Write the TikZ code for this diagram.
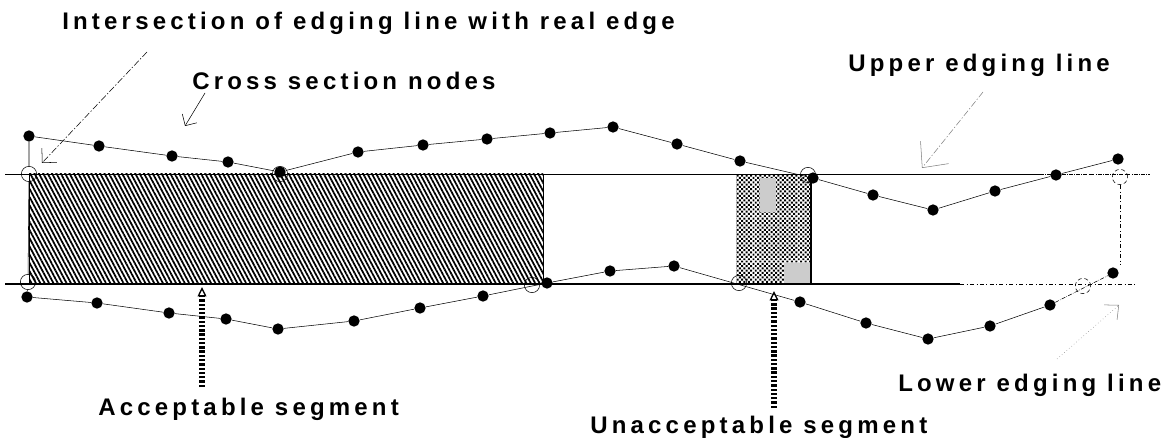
\documentclass[tikz,border=0pt]{standalone}
\usepackage{fontspec}
\newfontfamily\lblfont{Liberation Sans Bold}[LetterSpace=17.5]
\usetikzlibrary{arrows.meta,patterns,patterns.meta}

\begin{document}
\begin{tikzpicture}[x=0.75pt, y=-0.75pt,
    lbl/.style={font=\lblfont\fontsize{18}{21}\selectfont, anchor=base west, inner sep=0pt},
    dot/.style={circle, fill, inner sep=0pt, minimum size=8.5pt},
    hit/.style={circle, draw, thin, inner sep=0pt, minimum size=11.5pt},
    leader/.style={thin, dash pattern=on 5pt off 1.5pt on 1pt off 1.5pt},
    marker/.style={line width=4pt, dash pattern=on 1.8pt off 1.4pt,
        -{Triangle[open, length=7pt, width=6.5pt, line width=1pt]}}]
    \useasboundingbox (0,0) rectangle (1169,438);

    % segments between the edging lines
    \fill[pattern={Lines[angle=-62, distance=2.9pt, line width=1.3pt]}]
        (29,174) rectangle (543,284);
    \draw (29,174) -- (29,284) (543,174) -- (543,284);
    \fill[pattern={Dots[angle=45, distance=2.4pt, radius=1.05pt]}]
        (736,176) rectangle (811,284);
    \fill[gray!40] (760,178) rectangle (776,212);
    \fill[gray!40] (784,263) rectangle (810,283);
    \draw[line width=1.2pt] (811,176) -- (811,284);

    % edging lines
    \coordinate (ue-l) at (5,174);
    \coordinate (ue-m) at (1040,174);
    \coordinate (ue-r) at (1150,174);
    \coordinate (le-l) at (5,284);
    \coordinate (le-m) at (960,284);
    \coordinate (le-r) at (1135,284);
    \draw (ue-l) -- (ue-m);
    \draw[densely dash dot] (ue-m) -- (ue-r);
    \draw[line width=0.8pt] (le-l) -- (le-m);
    \draw[dash dot] (le-m) -- (le-r);

    % cross section nodes
    \foreach \i/\x/\y in {1/29/136, 2/99/146, 3/172/156, 4/228/162, 5/280/172,
        6/358/152, 7/423/145, 8/487/139, 9/550/133, 10/613/127, 11/677/144,
        12/740/161, 13/813/178, 14/873/195, 15/933/210, 16/995/191,
        17/1056/175, 18/1118/159}
        \node[dot] (u\i) at (\x,\y) {};
    \foreach \i/\x/\y in {1/27/297, 2/97/303, 3/169/313, 4/226/319, 5/278/329,
        6/354/321, 7/420/308, 8/483/296, 9/547/283, 10/610/271, 11/674/266,
        12/800/302, 13/866/323, 14/928/339, 15/990/326, 16/1050/305,
        17/1113/273}
        \node[dot] (l\i) at (\x,\y) {};
    \foreach \i [remember=\i as \j (initially 1)] in {2,...,18}
        \draw (u\j) -- (u\i);
    \foreach \i [remember=\i as \j (initially 1)] in {2,...,16}
        \draw (l\j) -- (l\i);
    \draw[densely dash dot] (l16) -- (l17);

    % intersections with the real edge
    \node[hit] (hu1) at (29,174) {};
    \node[hit] (hu2) at (280,174) {};
    \node[hit] (hu3) at (808,175) {};
    \node[hit, densely dashed] (hu4) at (1120,177) {};
    \node[hit] (hl1) at (28,282) {};
    \node[hit] (hl2) at (532,285) {};
    \node[hit] (hl3) at (739,283) {};
    \node[hit, densely dashed] (hl4) at (1083,286) {};
    \draw (u1) -- (hu1) -- (hl1) -- (l1);
    \draw[dash dot] (hu4) -- (1120,265);

    % labels
    \node[lbl] (isect) at (62,30) {Intersection of edging line with real edge};
    \node[lbl] (csn) at (192,90) {Cross section nodes};
    \node[lbl] (upper) at (848,72) {Upper edging line};
    \node[lbl] (lower) at (898,391) {Lower edging line};
    \node[lbl] (acc) at (98,415) {Acceptable segment};
    \node[lbl] (unacc) at (590,433) {Unacceptable segment};

    % leaders
    \coordinate (isect-a) at (147,52);
    \coordinate (isect-b) at (42,163);
    \coordinate (csn-a) at (205,93);
    \coordinate (csn-b) at (185,126);
    \coordinate (upper-a) at (983,92);
    \coordinate (upper-b) at (922,168);
    \coordinate (lower-a) at (1057,359);
    \coordinate (lower-b) at (1119,305);
    \draw[leader, -{Straight Barb[angle=90:11pt]}] (isect-a) -- (isect-b);
    \draw[thin, -{Straight Barb[angle=90:9pt]}] (csn-a) -- (csn-b);
    \draw[leader, gray, -{Straight Barb[angle=85:20pt]}] (upper-a) -- (upper-b);
    \draw[leader, gray, dotted, -{Straight Barb[angle=85:11pt]}] (lower-a) -- (lower-b);

    % segment markers
    \coordinate (acc-a) at (202,387);
    \coordinate (acc-b) at (202,287);
    \coordinate (unacc-a) at (774,408);
    \coordinate (unacc-b) at (774,291);
    \draw[marker] (acc-a) -- (acc-b);
    \draw[marker] (unacc-a) -- (unacc-b);
\end{tikzpicture}
\end{document}
